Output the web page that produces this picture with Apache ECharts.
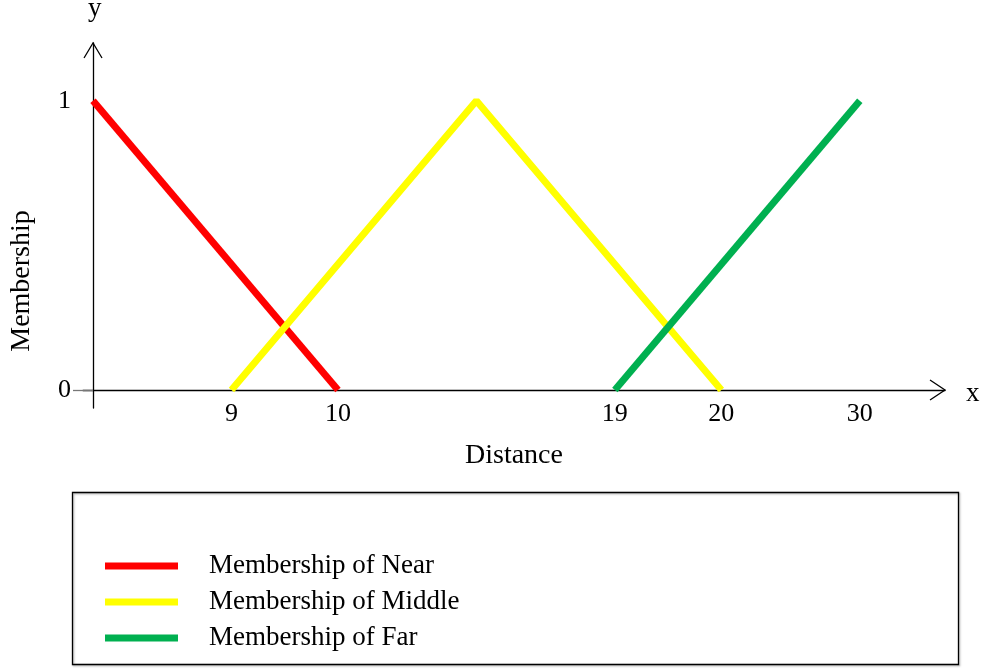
<!DOCTYPE html>
<html>
<head>
<meta charset="utf-8">
<script src="https://cdn.jsdelivr.net/npm/echarts@6/dist/echarts.min.js"></script>
<style>html,body{margin:0;padding:0;background:#fff}#c{width:985px;height:669px}</style>
</head>
<body>
<div id="c"></div>
<script>
// Schematic x positions (the drawing is not to scale) and their distance labels
const tickPositions = [1.3, 2.3, 4.9, 5.9, 7.2];
const tickLabels = ['9', '10', '19', '20', '30'];
const yTicks = [0, 1];
const seriesNames = ['Membership of Near', 'Membership of Middle', 'Membership of Far'];
const nearData = [[0, 1], [2.3, 0]];
const middleData = [[1.3, 0], [3.6, 1], [5.9, 0]];
const farData = [[4.9, 0], [7.2, 1]];

const FONT = '"Liberation Serif", "Times New Roman", serif';
const chart = echarts.init(document.getElementById('c'), null, {renderer: 'canvas'});
const lineStyle = (c) => ({color: c, width: 7, cap: 'butt'});
chart.setOption({
  animation: false,
  backgroundColor: '#fff',
  textStyle: {fontFamily: FONT},
  grid: {left: 83, right: 40, top: 43, bottom: 261},
  xAxis: {
    type: 'value', min: -0.094, max: 8,
    name: 'Distance', nameLocation: 'middle', nameGap: 34,
    nameTextStyle: {fontFamily: FONT, fontSize: 28, color: '#000'},
    axisLine: {onZero: true, lineStyle: {color: '#000', width: 1.3}},
    axisTick: {show: false},
    splitLine: {show: false},
    axisLabel: {
      customValues: tickPositions, margin: -7,
      fontFamily: FONT, fontSize: 26, color: '#000',
      formatter: (v) => { const i = tickPositions.findIndex(p => Math.abs(p - v) < 1e-6); return i >= 0 ? tickLabels[i] : ''; }
    }
  },
  yAxis: {
    type: 'value', min: -0.062, max: 1.2,
    axisLine: {onZero: true, lineStyle: {color: '#000', width: 1.3}},
    axisTick: {show: true, customValues: [0], length: 20, lineStyle: {color: '#777', width: 1.3}},
    splitLine: {show: false},
    axisLabel: {customValues: yTicks, margin: 12, fontFamily: FONT, fontSize: 26, color: '#000'}
  },
  legend: {
    orient: 'vertical', left: 100, top: 546, itemGap: 6,
    itemWidth: 73, itemHeight: 7, icon: 'rect',
    textStyle: {fontFamily: FONT, fontSize: 27, color: '#000', padding: [0, 0, 0, 26], lineHeight: 30},
    data: seriesNames
  },
  series: [
    {name: seriesNames[0], type: 'line', data: nearData, showSymbol: false, symbol: 'none', lineStyle: lineStyle('#ff0000'), itemStyle: {color: '#ff0000'}},
    {name: seriesNames[1], type: 'line', data: middleData, showSymbol: false, symbol: 'none', lineStyle: lineStyle('#ffff00'), itemStyle: {color: '#ffff00'}},
    {name: seriesNames[2], type: 'line', data: farData, showSymbol: false, symbol: 'none', lineStyle: lineStyle('#00b050'), itemStyle: {color: '#00b050'}}
  ]
});

const yTip = chart.convertToPixel({gridIndex: 0}, [0, 1.2]);
const xTip = chart.convertToPixel({gridIndex: 0}, [8, 0]);
chart.setOption({
  graphic: [
    {type: 'polyline', shape: {points: [[yTip[0] - 9, yTip[1] + 15], [yTip[0], yTip[1]], [yTip[0] + 9, yTip[1] + 15]]}, style: {stroke: '#000', lineWidth: 1.3, fill: null}},
    {type: 'polyline', shape: {points: [[xTip[0] - 15, xTip[1] - 10], [xTip[0], xTip[1]], [xTip[0] - 15, xTip[1] + 10]]}, style: {stroke: '#000', lineWidth: 1.3, fill: null}},
    {type: 'text', left: 88, top: -5, style: {text: 'y', font: '27px ' + FONT, fill: '#000'}},
    {type: 'text', left: 966, top: 380, style: {text: 'x', font: '27px ' + FONT, fill: '#000'}},
    {type: 'text', x: 22, y: 281, rotation: Math.PI / 2, style: {text: 'Membership', font: '28px ' + FONT, fill: '#000', align: 'center', verticalAlign: 'middle'}},
    {type: 'rect', shape: {x: 72.5, y: 492.5, width: 886, height: 172}, style: {stroke: '#000', lineWidth: 1.3, fill: null, shadowColor: 'rgba(0,0,0,0.35)', shadowBlur: 2, shadowOffsetX: 1, shadowOffsetY: 1}, z: -1}
  ]
});
</script>
</body>
</html>
